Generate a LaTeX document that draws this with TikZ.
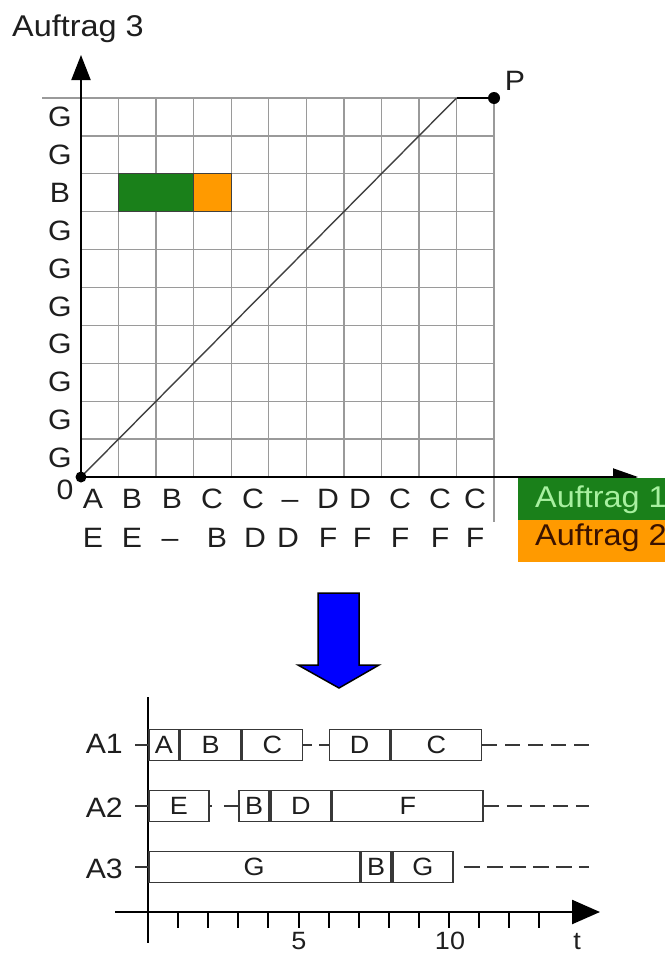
\documentclass[tikz,border=0pt]{standalone}
\usepackage{fontspec}
\setmainfont{Liberation Sans}[FakeStretch=1.08]
\usetikzlibrary{arrows.meta}
\definecolor{gridgray}{HTML}{9A9A9A}
\definecolor{okgreen}{HTML}{1A801A}
\definecolor{okorange}{HTML}{FF9A00}
\definecolor{lightgreen}{HTML}{A8F0A0}
\definecolor{darkbrown}{HTML}{3A1200}
\definecolor{txt}{HTML}{1E1E1E}
\definecolor{boxline}{HTML}{383838}
\begin{document}
\begin{tikzpicture}[x=1pt,y=-1pt,
  lab/.style={font=\fontsize{28}{30}\selectfont, text=txt, inner sep=0pt},
  biglab/.style={font=\fontsize{30}{32}\selectfont, inner sep=0pt},
  gridline/.style={draw=gridgray, line width=1.3pt},
  axisline/.style={draw=black, line width=2pt},
  gbox/.style={draw=boxline, line width=1.6pt, minimum height=31pt, inner sep=0pt,
    anchor=west, font=\fontsize{25}{27}\selectfont, text=txt},
  gtick/.style={draw=boxline, line width=1.6pt},
  trail/.style={draw=boxline, line width=1.6pt, dash pattern=on 15pt off 8pt},
  gaplink/.style={draw=boxline, line width=1.6pt}
]
\useasboundingbox (0,0) rectangle (665,953);

% ---------- top chart ----------
\node[biglab, text=txt, anchor=base west] (auf3) at (12,36) {Auftrag 3};

% grid
\foreach \i in {0,...,10}
  \draw[gridline] ({81+37.55*\i},98) -- ({81+37.55*\i},477);
\draw[gridline] (494,98) -- (494,522);
\draw[gridline] (42,98) -- (494,98);
\foreach \j in {1,...,9}
  \draw[gridline] (81,{98+37.9*\j}) -- (494,{98+37.9*\j});

% coloured cells
\draw[draw=black!75, line width=1pt, fill=okgreen] (118.55,173.8) rectangle (193.65,211.7);
\draw[draw=black!75, line width=1pt, fill=okorange] (193.65,173.8) rectangle (231.2,211.7);

% path
\draw[draw=black!75, line width=1.4pt] (81,477) -- (456.5,98);
\draw[draw=black, line width=2.2pt] (456.5,98) -- (494,98);

% axes
\draw[axisline, -{Triangle[length=25pt,width=19pt]}] (81,477) -- (81,55);
\draw[axisline, -{Triangle[length=25pt,width=17pt]}] (81,477) -- (638,477);

\fill[black] (81,477) circle (5.5pt);
\fill[black] (494,98) circle (6pt);
\node[lab, anchor=center] (plab) at (515,81) {P};
\node[lab, anchor=center] (zero) at (65,490) {0};

% y labels
\foreach \k/\l in {0/G,1/G,2/B,3/G,4/G,5/G,6/G,7/G,8/G,9/G}
  \node[lab, anchor=center] (y\k) at (60,{98+37.9*(\k+0.5)}) {\l};

% x labels
\foreach \x/\l [count=\n] in {93/A,132/B,172/B,212/C,253/C,290/–,328/D,360/D,400/C,440/C,475/C}
  \node[lab, anchor=base] (xa\n) at (\x,508) {\l};
\foreach \x/\l [count=\n] in {93/E,132/E,170/–,217/B,255/D,288/D,328/F,362/F,400/F,440/F,475/F}
  \node[lab, anchor=base] (xb\n) at (\x,547) {\l};

% legend
\fill[okgreen] (518,478) rectangle (665,520);
\fill[okorange] (518,520) rectangle (665,562);
\node[biglab, text=lightgreen, anchor=base west] (leg1) at (535,507) {Auftrag 1};
\node[biglab, text=darkbrown, anchor=base west] (leg2) at (535,545) {Auftrag 2};

% ---------- blue arrow ----------
\draw[draw=black, line width=1.5pt, fill=blue, line join=miter]
  (318,593) -- (359,593) -- (359,665) -- (379,665) -- (339,688) -- (298,665) -- (318,665) -- cycle;

% ---------- Gantt chart ----------
% axes
\draw[draw=black, line width=2.4pt] (148,697) -- (148,943);
\draw[draw=black, line width=2.4pt, -{Triangle[length=28pt,width=24pt]}] (115,912) -- (600,912);
\foreach \t in {1,...,13}
  \draw[draw=black, line width=2pt] ({148+30.1*\t},912) -- ({148+30.1*\t},928);
\node[lab, font=\fontsize{25}{27}\selectfont, anchor=base] (t5) at (299,949) {5};
\node[lab, font=\fontsize{25}{27}\selectfont, anchor=base] (t10) at (450,949) {10};
\node[lab, font=\fontsize{25}{27}\selectfont, anchor=base] (tt) at (577,949) {t};

% row labels and ticks
\node[lab, anchor=base east] (ra1) at (123,753) {A1};
\node[lab, anchor=base east] (ra2) at (123,817) {A2};
\node[lab, anchor=base east] (ra3) at (123,878) {A3};
\coordinate (k1) at (135,745);
\coordinate (k2) at (135,806);
\coordinate (k3) at (135,867);
\draw[gtick] (k1) -- (148,745);
\draw[gtick] (k2) -- (148,806);
\draw[gtick] (k3) -- (148,867);

% A1
\node[gbox, minimum width=30.1pt] (a1A) at (148,745) {A};
\node[gbox, minimum width=60.2pt] (a1B) at (a1A.east) {B};
\node[gbox, minimum width=60.2pt] (a1C) at (a1B.east) {C};
\node[gbox, minimum width=60.2pt] (a1D) at (328.6,745) {D};
\node[gbox, minimum width=90.3pt] (a1C2) at (a1D.east) {C};
\draw[gaplink, dash pattern=on 9pt off 7pt on 20pt] (a1C.east) -- (a1D.west);
\coordinate (e1) at (589,745);
\draw[trail] (a1C2.east) -- (e1);

% A2
\node[gbox, minimum width=60.2pt] (a2E) at (148,806) {E};
\node[gbox, minimum width=30.1pt] (a2B) at (238.3,806) {B};
\node[gbox, minimum width=60.2pt] (a2D) at (a2B.east) {D};
\node[gbox, minimum width=150.5pt] (a2F) at (a2D.east) {F};
\draw[gaplink, dash pattern=on 2pt off 12pt on 20pt] (a2E.east) -- (a2B.west);
\coordinate (e2) at (589,806);
\draw[trail] (a2F.east) -- (e2);

% A3
\node[gbox, minimum width=210.7pt] (a3G) at (148,867) {G};
\node[gbox, minimum width=30.1pt] (a3B) at (a3G.east) {B};
\node[gbox, minimum width=60.2pt] (a3G2) at (a3B.east) {G};
\coordinate (e3) at (589,867);
\draw[trail, dash pattern=on 0pt off 10pt on 16pt off 7pt on 16pt off 7pt on 16pt off 7pt on 16pt off 7pt on 16pt off 7pt on 16pt off 7pt] (a3G2.east) -- (e3);

\end{tikzpicture}
\end{document}
